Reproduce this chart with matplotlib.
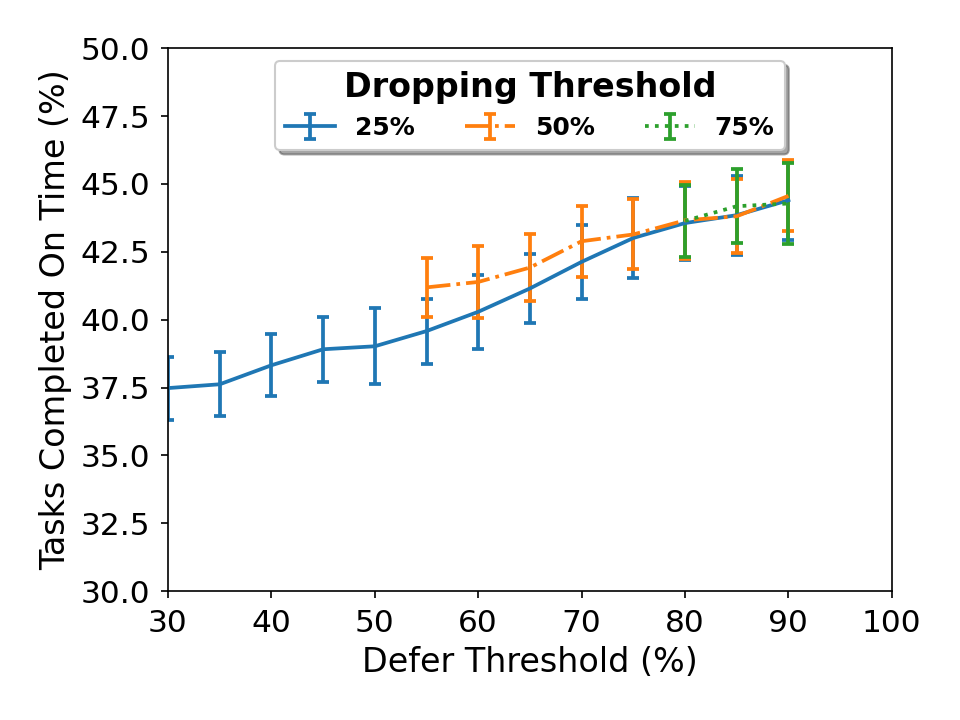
import matplotlib
matplotlib.use("Agg")
import matplotlib.pyplot as plt

# defer threshold (%) per series
x_25 = [30, 35, 40, 45, 50, 55, 60, 65, 70, 75, 80, 85, 90]
y_25 = [37.48, 37.62, 38.32, 38.91, 39.02, 39.58, 40.29, 41.15, 42.13, 43.01, 43.56, 43.85, 44.40]
e_25 = [1.16, 1.18, 1.15, 1.20, 1.40, 1.20, 1.37, 1.27, 1.36, 1.48, 1.37, 1.45, 1.45]

x_50 = [55, 60, 65, 70, 75, 80, 85, 90]
y_50 = [41.19, 41.39, 41.92, 42.89, 43.14, 43.66, 43.81, 44.56]
e_50 = [1.10, 1.32, 1.25, 1.30, 1.29, 1.42, 1.36, 1.31]

x_75 = [80, 85, 90]
y_75 = [43.64, 44.18, 44.28]
e_75 = [1.32, 1.36, 1.50]

fig = plt.figure(figsize=(6.4, 4.8), dpi=150)
ax = fig.add_subplot(111)
fig.subplots_adjust(left=0.175, right=0.929, top=0.933, bottom=0.179)

ax.errorbar(x_25, y_25, yerr=e_25, color='#1f77b4', linestyle='-', lw=1.8,
            capsize=3, capthick=1.8, label='25%')
ax.errorbar(x_50, y_50, yerr=e_50, color='#ff7f0e', linestyle='-.', lw=1.8,
            capsize=3, capthick=1.8, label='50%')
ax.errorbar(x_75, y_75, yerr=e_75, color='#2ca02c', linestyle=':', lw=1.8,
            capsize=3, capthick=1.8, label='75%')

ax.set_xlim(30, 100)
ax.set_ylim(30, 50)
ax.set_yticks([30, 32.5, 35, 37.5, 40, 42.5, 45, 47.5, 50])
ax.tick_params(labelsize=15, pad=5)
ax.set_xlabel('Defer Threshold (%)', fontsize=16)
ax.set_ylabel('Tasks Completed On Time (%)', fontsize=16)

leg = ax.legend(loc='upper center', ncol=3, shadow=True,
                prop={'size': 12, 'weight': 'bold'},
                title='Dropping Threshold',
                title_fontproperties={'size': 16, 'weight': 'bold'})

fig.savefig('out.png', dpi=150)
